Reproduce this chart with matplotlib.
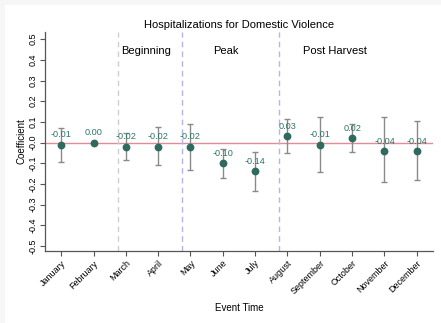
import matplotlib
matplotlib.use("Agg")
import matplotlib.pyplot as plt
from matplotlib.patches import Rectangle
import numpy as np

months = ["January", "February", "March", "April", "May", "June", "July",
          "August", "September", "October", "November", "December"]
coef = [-0.01, 0.00, -0.02, -0.02, -0.02, -0.10, -0.14, 0.03, -0.01, 0.02, -0.04, -0.04]
ci_high = [0.072, np.nan, 0.045, 0.077, 0.088, -0.031, -0.046, 0.114, 0.124, 0.089, 0.124, 0.106]
ci_low = [-0.094, np.nan, -0.085, -0.11, -0.133, -0.171, -0.236, -0.05, -0.143, -0.047, -0.192, -0.182]

period_breaks = [2.75, 4.75, 7.75]
period_colors = ["#cfcfcf", "#b4b4ee", "#b4b4ee"]
period_names = ["Beginning", "Peak", "Post Harvest"]
period_label_x = [2.86, 5.70, 8.48]

plt.rcParams['font.family'] = ['Liberation Sans', 'DejaVu Sans']

fig = plt.figure(figsize=(4.41, 3.23), dpi=100, facecolor="#f6f6f6")
# white panel inset from the top and left edges
fig.patches.append(Rectangle((5 / 441, 0), 1, 1 - 5 / 323, transform=fig.transFigure,
                             facecolor="white", edgecolor="none", zorder=-10))
ax = fig.add_axes([45 / 441, 1 - 251 / 323, 388 / 441, 219 / 323])
ax.set_facecolor("none")

x = np.arange(1, len(months) + 1)
coef = np.array(coef)
hi = np.array(ci_high)
lo = np.array(ci_low)

ax.axhline(0, color="#e48a98", lw=1.0, zorder=1)

for xb, c in zip(period_breaks, period_colors):
    ax.axvline(xb, color=c, lw=1.0, ls=(0, (4, 3)), zorder=1)

for name, xt in zip(period_names, period_label_x):
    ax.text(xt, 0.443, name, fontsize=8, ha="left", va="center", color="black")

ok = ~np.isnan(hi)
ax.errorbar(x[ok], coef[ok], yerr=[coef[ok] - lo[ok], hi[ok] - coef[ok]], fmt="none",
            ecolor="#8a8a8a", elinewidth=1.0, capsize=2.4, capthick=1.0, zorder=2)
ax.plot(x, coef, "o", color="#2e6a5e", markersize=4.6, zorder=3)

for xi, v in zip(x, coef):
    ax.annotate("%.2f" % v, (xi, v), xytext=(0, 7.0), textcoords="offset points",
                ha="center", va="center", fontsize=6.6, color="#2e7466", zorder=4)

ax.set_xlim(0.5, 12.5)
ax.set_ylim(-0.525, 0.535)
ax.set_xticks(x)
ax.set_xticklabels(months, rotation=45, ha="right", rotation_mode="anchor", fontsize=6.5)
yt = np.round(np.arange(-0.5, 0.51, 0.1), 1)
ax.set_yticks(yt)
ax.set_yticklabels(["%.1f" % t for t in yt], rotation=90, va="center", fontsize=6.5)

for s in ["top", "right"]:
    ax.spines[s].set_visible(False)
for s in ["left", "bottom"]:
    ax.spines[s].set_color("#555555")
    ax.spines[s].set_linewidth(0.9)
ax.tick_params(axis="both", length=3.5, width=0.8, color="#555555", pad=2)

ax.set_xlabel("Event Time", fontsize=7, labelpad=5)
ax.set_ylabel("Coefficient", fontsize=7, labelpad=1)
ax.set_title("Hospitalizations for Domestic Violence", fontsize=8, pad=3)

fig.savefig("out.png", dpi=100, facecolor=fig.get_facecolor())
